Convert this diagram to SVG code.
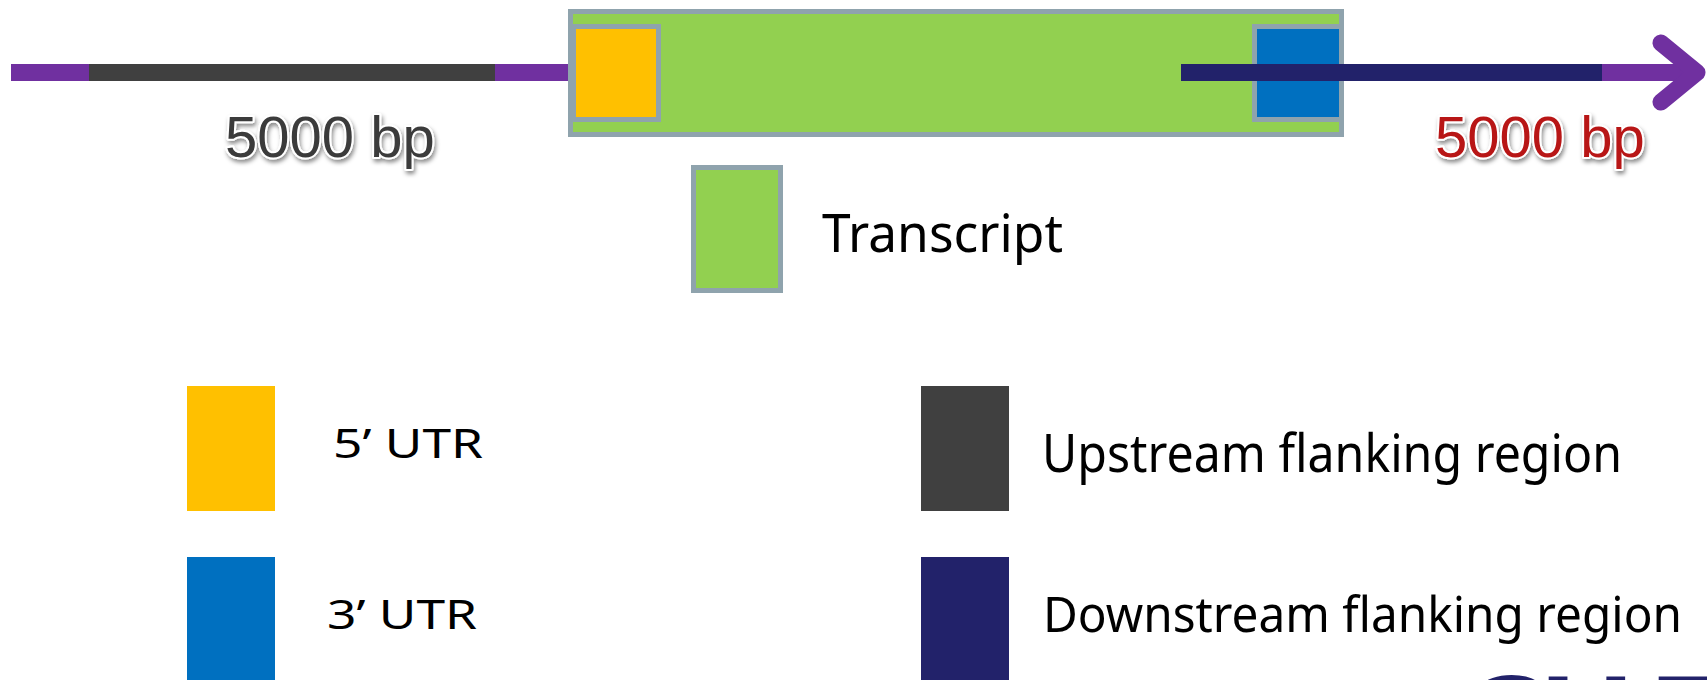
<svg xmlns="http://www.w3.org/2000/svg" width="1707" height="680" viewBox="0 0 1707 680">
<defs>
<style>
.purple{fill:#7030a0}
.gray{fill:#404040}
.navy{fill:#22226a}
.green{fill:#92d050;stroke:#8fa3ad;stroke-width:5}
.orange{fill:#ffc000}
.blue{fill:#0070c0}
.bord{stroke:#8fa3ad;stroke-width:5}
.bp{font-family:"Liberation Sans",Arial,sans-serif;font-size:58px;stroke:#ffffff;stroke-width:4;paint-order:stroke;stroke-linejoin:round;filter:url(#shadow)}
.lbl{font-family:"Noto Sans","DejaVu Sans",sans-serif;fill:#000000}
.logo{font-family:"Liberation Sans",Arial,sans-serif;font-weight:bold;font-size:130px;fill:#22226a}
</style>
<filter id="shadow" x="-10%" y="-30%" width="120%" height="160%">
<feDropShadow dx="1.5" dy="3" stdDeviation="2" flood-color="#000000" flood-opacity="0.45"/>
</filter>
</defs>

<g id="connectors">
<rect class="purple" x="11" y="64" width="557" height="17"/>
<rect class="gray" x="89" y="64" width="406" height="17"/>
</g>

<g id="transcript">
<rect class="green" x="570.5" y="11.5" width="771" height="123"/>
</g>
<g id="utr5">
<rect class="orange bord" x="573.5" y="26.5" width="85" height="93"/>
</g>
<g id="utr3">
<rect class="blue bord" x="1254.5" y="26.5" width="87" height="93"/>
</g>

<g id="downstream-line">
<rect class="navy" x="1181" y="64" width="421" height="17"/>
<rect class="purple" x="1602" y="64" width="92" height="17"/>
<polyline points="1661,43 1697,72.5 1661,102" fill="none" stroke="#7030a0" stroke-width="17" stroke-linecap="round" stroke-linejoin="round"/>
</g>

<g id="label-up-bp">
<text class="bp" x="225" y="157" fill="#3a3a3a">5000 bp</text>
</g>
<g id="label-down-bp">
<text class="bp" x="1435" y="157" fill="#b81414">5000 bp</text>
</g>

<g id="legend-transcript">
<rect class="green" x="693.5" y="167.5" width="87" height="123"/>
<text class="lbl" x="822" y="252" font-size="52" textLength="241" lengthAdjust="spacingAndGlyphs">Transcript</text>
</g>
<g id="legend-utr5">
<rect class="orange" x="187" y="386" width="88" height="125"/>
<text class="lbl" x="333" y="458" font-size="40" textLength="150" lengthAdjust="spacingAndGlyphs">5’ UTR</text>
</g>
<g id="legend-utr3">
<rect class="blue" x="187" y="557" width="88" height="130"/>
<text class="lbl" x="327" y="629" font-size="40" textLength="150" lengthAdjust="spacingAndGlyphs">3’ UTR</text>
</g>
<g id="legend-upstream">
<rect class="gray" x="921" y="386" width="88" height="125"/>
<text class="lbl" x="1042" y="472" font-size="52" textLength="580" lengthAdjust="spacingAndGlyphs">Upstream flanking region</text>
</g>
<g id="legend-downstream">
<rect class="navy" x="921" y="557" width="88" height="130"/>
<text class="lbl" x="1043" y="632" font-size="50" textLength="639" lengthAdjust="spacingAndGlyphs">Downstream flanking region</text>
</g>

<g id="logo">
<text class="logo" x="1462" y="766">C</text>
<text class="logo" x="1540" y="766">H</text>
<text class="logo" x="1650" y="766">E</text>
</g>
</svg>
